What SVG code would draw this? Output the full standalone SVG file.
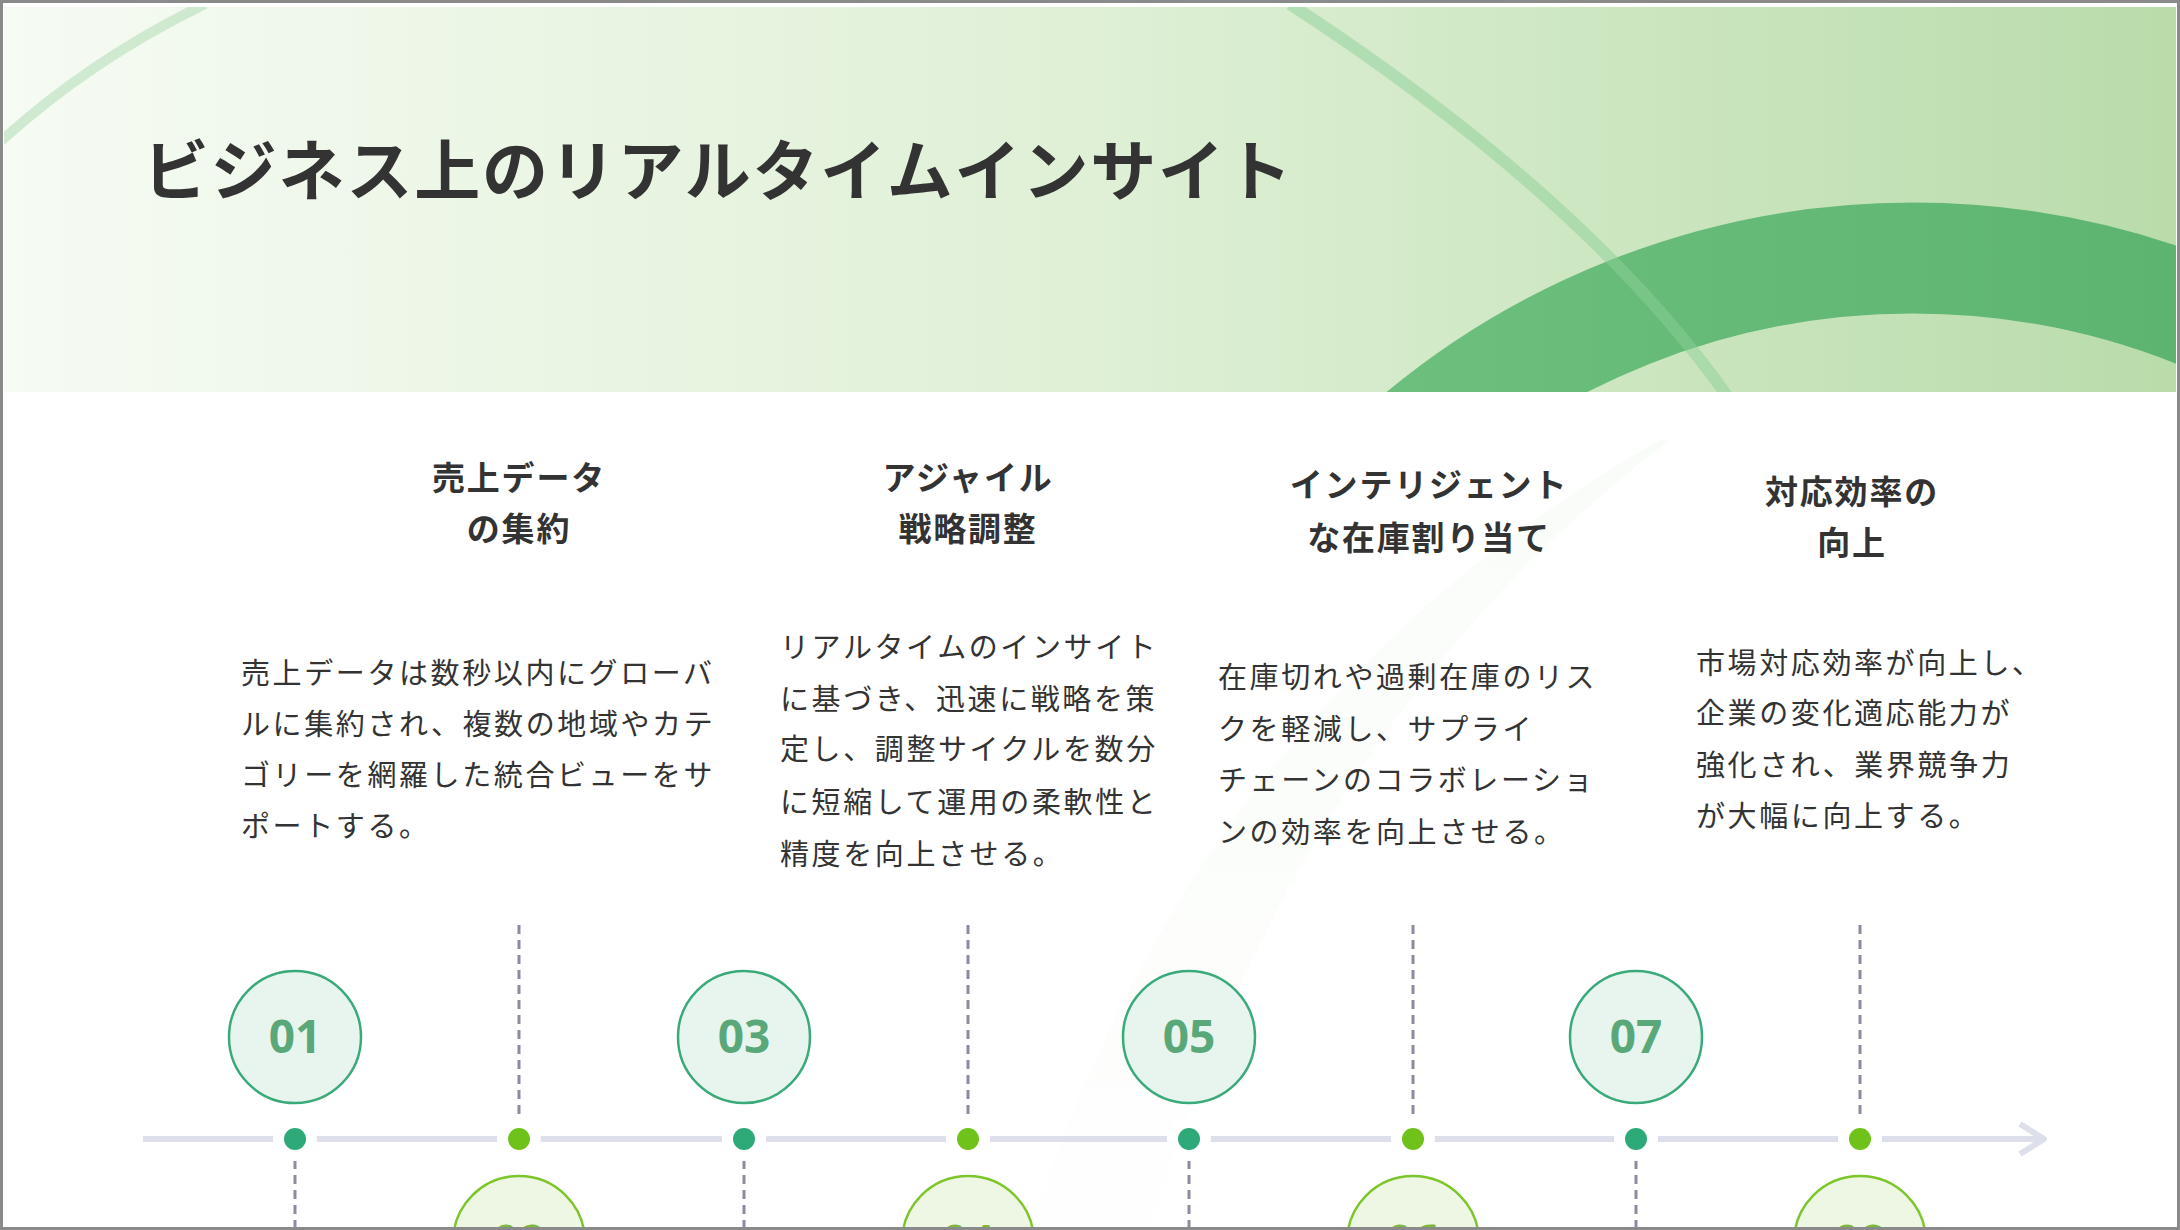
<svg xmlns="http://www.w3.org/2000/svg" width="2180" height="1230" viewBox="0 0 2180 1230">
<defs>
<linearGradient id="hg" x1="0" y1="0" x2="1" y2="0"><stop offset="0" stop-color="#f6fbf3"/><stop offset="0.5" stop-color="#dff0d6"/><stop offset="1" stop-color="#b9dcab"/></linearGradient>
<linearGradient id="ag" x1="0" y1="0" x2="1" y2="0"><stop offset="0" stop-color="#6cc07c"/><stop offset="1" stop-color="#4eab66"/></linearGradient>
<linearGradient id="fg" x1="0" y1="0" x2="0" y2="1"><stop offset="0" stop-color="#f2f9f0" stop-opacity="0.5"/><stop offset="1" stop-color="#f6fbf4" stop-opacity="0.15"/></linearGradient>
<clipPath id="hc"><rect x="4" y="7" width="2172" height="385"/></clipPath>
<style>
.t{font-family:"Noto Sans CJK JP","Noto Sans",sans-serif;fill:#333}
.h{font-size:33px;font-weight:700;text-anchor:middle;letter-spacing:1.8px}
.b{font-size:29px;letter-spacing:2.6px}
.n{font-family:"Noto Sans","Open Sans",sans-serif;font-weight:700;font-size:46px;text-anchor:middle}
.co{fill:#e8f5ee;stroke:#3aaa7a;stroke-width:2.5}
.ce{fill:#eef7e4;stroke:#7cc52a;stroke-width:2.5}
.dash{stroke:#8a8ca0;stroke-width:3;stroke-dasharray:9 6}
</style>
</defs>
<rect x="0" y="0" width="2180" height="1230" fill="#ffffff"/>
<path d="M1660,440 Q1200,700 1030,1230 L1150,1230 Q1300,720 1670,440 Z" fill="url(#fg)"/>
<g id="header">
<rect x="4" y="7" width="2172" height="385" fill="url(#hg)"/>
<g clip-path="url(#hc)">
<circle cx="1913" cy="1028" r="770" fill="none" stroke="url(#ag)" stroke-width="111" opacity="0.95"/>
<path d="M1290,4 Q1590,200 1730,400" fill="none" stroke="#8ccf98" stroke-width="12" opacity="0.5"/>
<path d="M0,142 Q90,60 205,4" fill="none" stroke="#bfe3c2" stroke-width="10" opacity="0.7"/>
</g>
<text class="t" x="143" y="195" font-size="66" font-weight="700" letter-spacing="1.8">ビジネス上のリアルタイムインサイト</text>
</g>
<g id="connectors">
<line x1="143" y1="1139" x2="2040" y2="1139" stroke="#dde0ea" stroke-width="6"/>
<path d="M2020,1124 L2044,1139 L2020,1154" fill="none" stroke="#dde0ea" stroke-width="6" stroke-linejoin="round"/>
<g class="dash">
<line x1="519" y1="925" x2="519" y2="1119"/><line x1="968" y1="925" x2="968" y2="1119"/>
<line x1="1413" y1="925" x2="1413" y2="1119"/><line x1="1860" y1="925" x2="1860" y2="1119"/>
<line x1="295" y1="1160" x2="295" y2="1230"/><line x1="744" y1="1160" x2="744" y2="1230"/>
<line x1="1189" y1="1160" x2="1189" y2="1230"/><line x1="1636" y1="1160" x2="1636" y2="1230"/>
</g>
</g>
<g id="dots">
<g fill="#ffffff"><circle cx="295" cy="1139" r="22"/><circle cx="519" cy="1139" r="22"/><circle cx="744" cy="1139" r="22"/><circle cx="968" cy="1139" r="22"/><circle cx="1189" cy="1139" r="22"/><circle cx="1413" cy="1139" r="22"/><circle cx="1636" cy="1139" r="22"/><circle cx="1860" cy="1139" r="22"/></g>
<g fill="#2eaa78"><circle cx="295" cy="1139" r="11"/><circle cx="744" cy="1139" r="11"/><circle cx="1189" cy="1139" r="11"/><circle cx="1636" cy="1139" r="11"/></g>
<g fill="#6fc21a"><circle cx="519" cy="1139" r="11"/><circle cx="968" cy="1139" r="11"/><circle cx="1413" cy="1139" r="11"/><circle cx="1860" cy="1139" r="11"/></g>
</g>
<g id="n01"><circle class="co" cx="295" cy="1037" r="66"/><text class="n" x="295" y="1053" fill="#5aa87a">01</text></g>
<g id="n03"><circle class="co" cx="744" cy="1037" r="66"/><text class="n" x="744" y="1053" fill="#5aa87a">03</text></g>
<g id="n05"><circle class="co" cx="1189" cy="1037" r="66"/><text class="n" x="1189" y="1053" fill="#5aa87a">05</text></g>
<g id="n07"><circle class="co" cx="1636" cy="1037" r="66"/><text class="n" x="1636" y="1053" fill="#5aa87a">07</text></g>
<g id="n02"><circle class="ce" cx="519" cy="1242" r="66"/><text class="n" x="519" y="1258" fill="#7cb83a">02</text></g>
<g id="n04"><circle class="ce" cx="968" cy="1242" r="66"/><text class="n" x="968" y="1258" fill="#7cb83a">04</text></g>
<g id="n06"><circle class="ce" cx="1413" cy="1242" r="66"/><text class="n" x="1413" y="1258" fill="#7cb83a">06</text></g>
<g id="n08"><circle class="ce" cx="1860" cy="1242" r="66"/><text class="n" x="1860" y="1258" fill="#7cb83a">08</text></g>
<g id="c1">
<text class="t h" x="519" y="490">売上データ</text><text class="t h" x="519" y="541">の集約</text>
<text class="t b" x="241"><tspan x="241" y="684">売上データは数秒以内にグローバ</tspan><tspan x="241" y="735">ルに集約され、複数の地域やカテ</tspan><tspan x="241" y="786">ゴリーを網羅した統合ビューをサ</tspan><tspan x="241" y="837">ポートする。</tspan></text>
</g>
<g id="c2">
<text class="t h" x="968" y="490">アジャイル</text><text class="t h" x="968" y="541">戦略調整</text>
<text class="t b"><tspan x="780" y="658">リアルタイムのインサイト</tspan><tspan x="780" y="710">に基づき、迅速に戦略を策</tspan><tspan x="780" y="760">定し、調整サイクルを数分</tspan><tspan x="780" y="813">に短縮して運用の柔軟性と</tspan><tspan x="780" y="865">精度を向上させる。</tspan></text>
</g>
<g id="c3">
<text class="t h" x="1429" y="497">インテリジェント</text><text class="t h" x="1429" y="550">な在庫割り当て</text>
<text class="t b"><tspan x="1218" y="688">在庫切れや過剰在庫のリス</tspan><tspan x="1218" y="740">クを軽減し、サプライ</tspan><tspan x="1218" y="791">チェーンのコラボレーショ</tspan><tspan x="1218" y="843">ンの効率を向上させる。</tspan></text>
</g>
<g id="c4">
<text class="t h" x="1852" y="504">対応効率の</text><text class="t h" x="1852" y="555">向上</text>
<text class="t b"><tspan x="1696" y="674">市場対応効率が向上し、</tspan><tspan x="1696" y="724">企業の変化適応能力が</tspan><tspan x="1696" y="776">強化され、業界競争力</tspan><tspan x="1696" y="827">が大幅に向上する。</tspan></text>
</g>
<rect x="1.5" y="1.5" width="2177" height="1227" fill="none" stroke="#8a8a8a" stroke-width="3"/>
</svg>
